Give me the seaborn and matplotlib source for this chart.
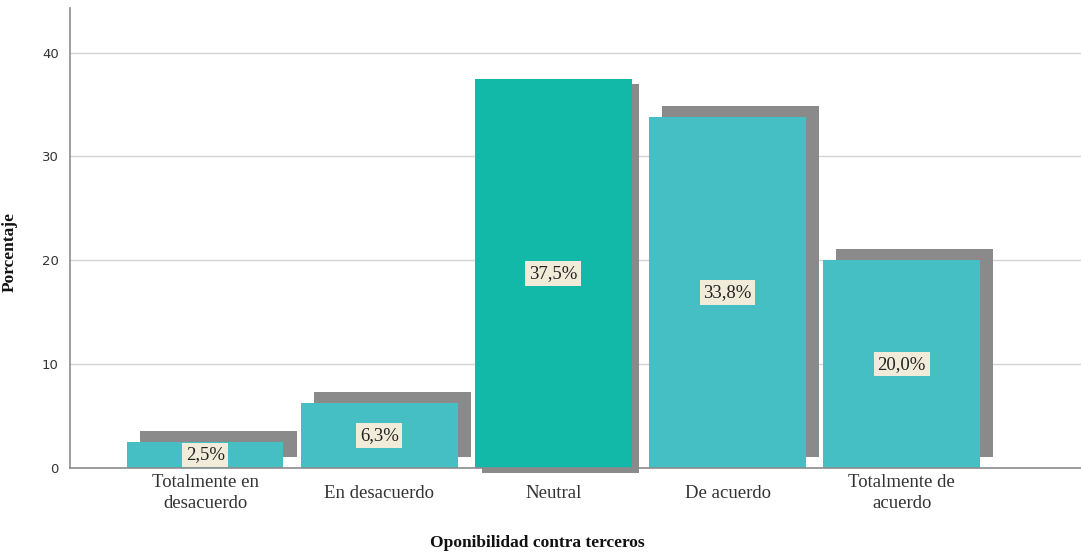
import numpy as np
import pandas as pd
import matplotlib
matplotlib.use("Agg")
import matplotlib.pyplot as plt
import seaborn as sns

categorias = ["Totalmente en\ndesacuerdo", "En desacuerdo", "Neutral", "De acuerdo", "Totalmente de\nacuerdo"]
porcentajes = [2.5, 6.3, 37.5, 33.8, 20.0]
etiquetas = ["2,5%", "6,3%", "37,5%", "33,8%", "20,0%"]

sns.set_style("white")
plt.rcParams['font.family'] = ['Liberation Serif', 'DejaVu Serif']

colores = ["#45bfc4", "#45bfc4", "#12b8a8", "#45bfc4", "#45bfc4"]
df = pd.DataFrame({"cat": categorias, "pct": porcentajes})

fig = plt.figure(figsize=(10.81, 5.53), dpi=100)
ax = fig.add_axes([70 / 1081, 1 - 468 / 553, 1 - 70 / 1081, 460 / 553])

# sombras (la barra destacada tiene la sombra hacia abajo)
ancho = 0.9
for i, v in enumerate(porcentajes):
    if i == 2:
        dx, dy = 0.04, -0.5
    else:
        dx, dy = 0.075, 1.06
    ax.bar(i + dx, v, width=ancho, bottom=dy, color="#8a8a8a", linewidth=0, zorder=1, clip_on=False)

sns.barplot(data=df, x="cat", y="pct", hue="cat", palette=colores, width=ancho,
            legend=False, ax=ax, zorder=2, saturation=1, linewidth=0)

for i, v in enumerate(porcentajes):
    ax.text(i, v / 2, etiquetas[i], ha="center", va="center", fontsize=13.5, color="#222222",
            zorder=5, bbox=dict(boxstyle="square,pad=0.2", fc="#f1ecd9", ec="none"))

ax.set_xlim(-0.776, 5.03)
ax.set_ylim(0, 44.3)
ax.set_yticks([0, 10, 20, 30, 40])
ax.set_yticklabels(["0", "10", "20", "30", "40"], family="DejaVu Sans", fontsize=9.5, color="#333333")
ax.yaxis.grid(True, color="#d4d4d4", linewidth=1)
ax.set_axisbelow(True)
ax.tick_params(axis="both", length=0)
ax.tick_params(axis="x", labelsize=13.5, labelcolor="#333333", pad=18)
ax.tick_params(axis="y", pad=8)
for lbl in ax.get_xticklabels():
    lbl.set_linespacing(1.3)
    lbl.set_va("center")

for s in ["top", "right"]:
    ax.spines[s].set_visible(False)
ax.spines["left"].set_color("#8c8c8c")
ax.spines["bottom"].set_color("#8c8c8c")
ax.spines["left"].set_linewidth(1.2)
ax.spines["bottom"].set_linewidth(1.2)

ax.set_xlabel("")
ax.set_ylabel("Porcentaje", fontsize=12.5, fontweight="bold", color="#111111")
ax.yaxis.set_label_coords(-52 / 1011, (468 - 252) / 460)
fig.text(537 / 1081, 1 - 543 / 553, "Oponibilidad contra terceros", ha="center", va="center",
         fontsize=12.5, fontweight="bold", color="#111111")

fig.savefig("out.png", dpi=100)
